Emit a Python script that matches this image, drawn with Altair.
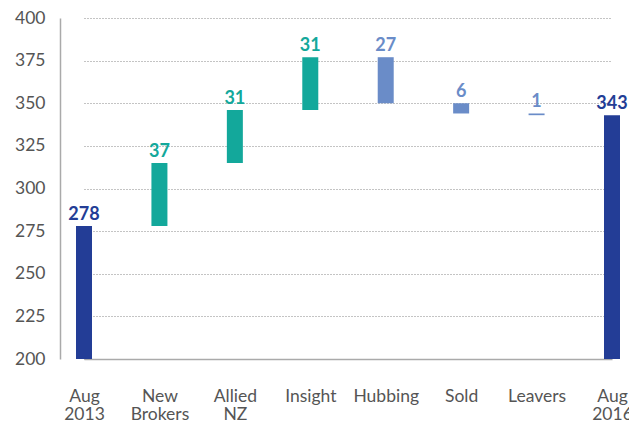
import altair as alt
import pandas as pd

categories = ["Aug 2013", "New Brokers", "Allied NZ", "Insight", "Hubbing", "Sold", "Leavers", "Aug 2016"]
start_total = 278
changes = [37, 31, 31, -27, -6, -1]
end_total = 343
kinds = ["total", "up", "up", "up", "down", "down", "down", "total"]
y_ticks = [200, 225, 250, 275, 300, 325, 350, 375, 400]

starts, ends, labels = [200], [start_total], [str(start_total)]
run = start_total
for c in changes:
    starts.append(run)
    run += c
    ends.append(run)
    labels.append(str(abs(c)))
starts.append(200)
ends.append(end_total)
labels.append(str(end_total))

df = pd.DataFrame({
    "cat": categories,
    "start": starts,
    "end": ends,
    "label": labels,
    "kind": kinds,
    "top": [max(a, b) for a, b in zip(starts, ends)],
})

color_scale = alt.Scale(domain=["total", "up", "down"], range=["#233D96", "#13A89B", "#6A8CC8"])
x_enc = alt.X("cat:N", sort=categories, title=None,
              scale=alt.Scale(type="point", range=[24, 552], padding=0),
              axis=alt.Axis(labelAngle=0, ticks=False, grid=False, labelExpr="split(datum.label, ' ')",
                            labelFont="Lato", labelFontSize=17.5, labelColor="#555555",
                            labelBaseline="top", labelPadding=28, labelLineHeight=18,
                            domainColor="#aaaaaa", domainWidth=1.5, labelOverlap=False))

bars = alt.Chart(df).mark_bar(size=16).encode(
    x=x_enc,
    y=alt.Y("start:Q", title=None, scale=alt.Scale(domain=[200, 400], nice=False, zero=False),
            axis=alt.Axis(values=y_ticks, ticks=False, grid=True, gridColor="#888888", gridDash=[1, 2],
                          gridWidth=1, labelFont="Lato", labelFontSize=17.5, labelColor="#555555",
                          labelPadding=15, domainColor="#aaaaaa", domainWidth=1.5)),
    y2="end:Q",
    color=alt.Color("kind:N", scale=color_scale, legend=None),
)

text = alt.Chart(df).mark_text(font="Lato", fontSize=18, fontWeight="bold", baseline="alphabetic", dy=-6).encode(
    x=alt.X("cat:N", sort=categories),
    y=alt.Y("top:Q"),
    text="label:N",
    color=alt.Color("kind:N", scale=color_scale, legend=None),
)

chart = (bars + text).properties(
    width=569, height=341,
    autosize=alt.AutoSizeParams(type="none"),
    padding={"left": 60, "top": 18, "right": 0, "bottom": 62},
).configure_view(stroke=None)

chart.save("out.html", embed_options={"renderer": "svg", "actions": False})
